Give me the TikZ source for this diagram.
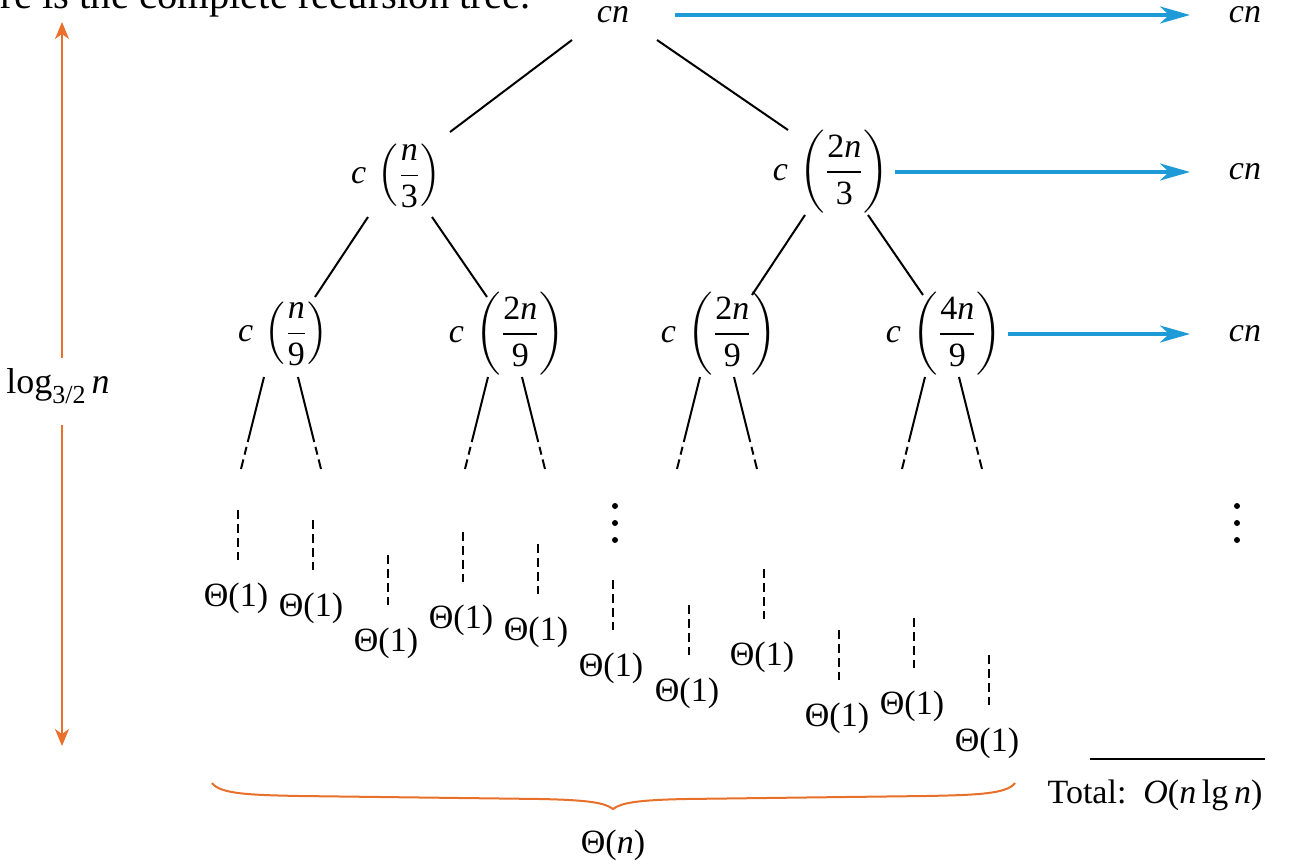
\documentclass[tikz,border=0pt]{standalone}
\usepackage{fontspec}
\usepackage{amsmath}
\setmainfont{Liberation Serif}
\usetikzlibrary{arrows.meta,calc}
\definecolor{cblue}{HTML}{1E9AD6}
\definecolor{corange}{HTML}{E8702A}
\newcommand{\cfr}[2]{$\textit{c}\,\left(\dfrac{#1}{#2}\right)$}
\begin{document}
\begin{tikzpicture}[x=0.5pt,y=-0.5pt,
  font=\fontsize{17}{20}\selectfont,
  every node/.style={inner sep=0pt},
  edge/.style={line width=1pt},
  fade/.style={line width=1pt, dash pattern=on 33.5pt off 2.5pt on 4pt off 2.5pt on 5pt},
  vdash/.style={line width=0.8pt, dash pattern=on 4.5pt off 2.5pt},
  barrow/.style={line width=1.6pt, cblue, -{Stealth[length=15pt,width=8.5pt,inset=4.5pt]}},
  oarrow/.style={line width=1pt, corange, -{Stealth[length=8.5pt,width=7pt,inset=2.5pt]}},
  dot/.style={fill=black}]
\useasboundingbox (0,0) rectangle (1295,867);
\clip (0,0) rectangle (1295,867);
\fill[white] (0,0) rectangle (1295,867);

% cropped heading
\node[anchor=base west, font=\fontsize{20.3}{22}\selectfont] (head) at (-47,9) {Here is the complete recursion tree.};

% tree nodes
\node (root) at (613,15) {\textit{cn}};
\node (n3) at (396,176) {\cfr{\textit{n}}{\text{3}}};
\node (n23) at (831,172) {\cfr{\text{2}\textit{n}}{\text{3}}};
\node (n9) at (283,334) {\cfr{\textit{n}}{\text{9}}};
\node (n29a) at (507,334) {\cfr{\text{2}\textit{n}}{\text{9}}};
\node (n29b) at (719,334) {\cfr{\text{2}\textit{n}}{\text{9}}};
\node (n49) at (944,334) {\cfr{\text{4}\textit{n}}{\text{9}}};

% level costs
\node (r1) at (1245,15) {\textit{cn}};
\node (r2) at (1245,172) {\textit{cn}};
\node (r3) at (1245,334) {\textit{cn}};

% tree edges
\draw[edge] ($(root)+(-41,25)$) -- ($(n3)+(54,-44)$);
\draw[edge] ($(root)+(44,25)$) -- ($(n23)+(-43,-42)$);
\draw[edge] ($(n3)+(-28,41)$) -- ($(n9)+(32,-37)$);
\draw[edge] ($(n3)+(36,41)$) -- ($(n29a)+(-20,-37)$);
\draw[edge] ($(n23)+(-26,43)$) -- ($(n29b)+(33,-39)$);
\draw[edge] ($(n23)+(37,43)$) -- ($(n49)+(-21,-39)$);

% fading edges below level 3
\foreach \n in {n9,n29a,n29b,n49}{
  \draw[fade] ($(\n)+(-19,43)$) -- ($(\n)+(-42,135)$);
  \draw[fade] ($(\n)+(15,43)$) -- ($(\n)+(38,135)$);
}

% blue arrows
\draw[barrow] ($(root)+(62,0)$) -- ($(r1)+(-55,0)$);
\draw[barrow] ($(n23)+(64,0)$) -- ($(r2)+(-55,0)$);
\draw[barrow] ($(n49)+(64,0)$) -- ($(r3)+(-55,0)$);

% vertical dots
\foreach \y in {506,523,540}{
  \fill[dot] (615,\y) circle (3);
  \fill[dot] (1237,\y) circle (3);
}

% leaves
\foreach \i/\x/\y in {1/236/598, 2/311/608, 3/386/643, 4/461/620, 5/536/632, 6/611/668, 7/687/693, 8/762/657, 9/837/718, 10/912/706, 11/987/743}{
  \node (l\i) at (\x,\y) {Θ(1)};
  \draw[vdash] ($(l\i)+(2,-88)$) -- ($(l\i)+(2,-38)$);
}

% height arrow
\node (lg) at (58,386) {\fontsize{18}{20}\selectfont log\raisebox{-5pt}{\fontsize{13}{14}\selectfont 3/2}\,\textit{n}};
\coordinate (otop) at (62,22);
\coordinate (obot) at (62,746);
\draw[oarrow] ($(lg)+(4,-28)$) -- (otop);
\draw[oarrow] ($(lg)+(4,39)$) -- (obot);

% brace
\draw[corange, line width=1pt] (212,783) .. controls (220,794) and (250,795) .. (300,796)
  -- (540,799) .. controls (590,800) and (605,803) .. (613,809)
  .. controls (621,803) and (636,800) .. (686,799) -- (926,796)
  .. controls (976,795) and (1007,794) .. (1015,783);
\node (thn) at (613,845) {Θ(\textit{n})};

% total
\coordinate (ta) at (1090,759);
\coordinate (tb) at (1265,759);
\draw[line width=0.8pt] (ta) -- (tb);
\node (total) at (1155,795) {Total:\ \ \textit{O}(\textit{n}\,lg\,\textit{n})};
\end{tikzpicture}
\end{document}
